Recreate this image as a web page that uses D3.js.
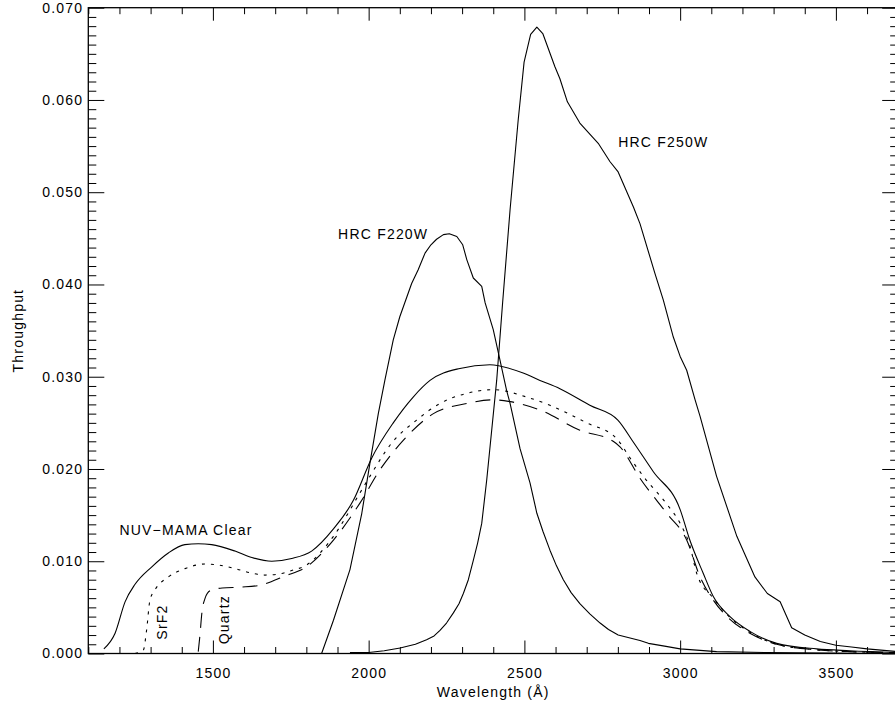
<!DOCTYPE html>
<html>
<head>
<meta charset="utf-8">
<script src="https://cdn.jsdelivr.net/npm/d3@7/dist/d3.min.js"></script>
<style>
  body { margin: 0; background: #fff; }
  svg text { font-family: "Liberation Sans", Arial, sans-serif; font-size: 14px; letter-spacing: 1.2px; fill: #000; }
</style>
</head>
<body>
<svg id="chart" width="895" height="704"></svg>
<script>
// Throughput curves: [wavelength (Å), throughput]
const nuvClear = [
  [1150,0.0005],[1186,0.0022],[1218,0.0056],[1250,0.0075],[1304,0.0094],[1357,0.0109],
  [1410,0.0118],[1453,0.0119],[1496,0.0118],[1571,0.0111],[1625,0.0104],[1689,0.0100],
  [1753,0.0103],[1817,0.0111],[1887,0.0135],[1951,0.0166],[2010,0.0212],[2079,0.0250],
  [2143,0.0278],[2197,0.0296],[2293,0.0309],[2389,0.0313],[2496,0.0304],[2550,0.0296],
  [2614,0.0287],[2710,0.0269],[2800,0.0253],[2850,0.0229],[2914,0.0197],[3000,0.0156],
  [3031,0.0123],[3074,0.0087],[3106,0.0062],[3160,0.0040],[3224,0.0024],[3310,0.0011],
  [3438,0.0005],[3545,0.0003],[3700,0.0001]
];
const srf2 = [
  [1250,0.0000],[1277,0.0004],[1287,0.0025],[1298,0.0058],[1314,0.0069],[1357,0.0083],
  [1410,0.0092],[1475,0.0097],[1517,0.0096],[1571,0.0092],[1625,0.0087],[1667,0.0085],
  [1710,0.0086],[1753,0.0090],[1801,0.0096],[1887,0.0127],[1972,0.0174],[2004,0.0192],
  [2069,0.0226],[2154,0.0253],[2229,0.0271],[2315,0.0282],[2400,0.0286],[2507,0.0278],
  [2582,0.0269],[2700,0.0250],[2796,0.0233],[2839,0.0212],[2882,0.0192],[2957,0.0162],
  [3000,0.0141],[3032,0.0116],[3053,0.0087],[3106,0.0060],[3160,0.0039],[3224,0.0023],
  [3310,0.0010],[3438,0.0004],[3545,0.0002],[3700,0.0001]
];
const quartz = [
  [1453,0.0002],[1459,0.0022],[1464,0.0042],[1475,0.0060],[1491,0.0068],[1530,0.0071],
  [1592,0.0072],[1651,0.0074],[1731,0.0084],[1801,0.0094],[1887,0.0123],[1972,0.0163],
  [2036,0.0199],[2111,0.0231],[2208,0.0260],[2315,0.0271],[2400,0.0275],[2454,0.0273],
  [2550,0.0264],[2678,0.0242],[2785,0.0230],[2807,0.0224],[2871,0.0190],[2957,0.0152],
  [3021,0.0123],[3064,0.0083],[3106,0.0058],[3160,0.0037],[3224,0.0022],[3310,0.0010],
  [3438,0.0004],[3545,0.0002],[3700,0.0001]
];
const hrcF220W = [
  [1849,0.0000],[1887,0.0036],[1940,0.0091],[1978,0.0152],[2004,0.0206],[2031,0.0260],
  [2052,0.0296],[2079,0.0340],[2100,0.0365],[2138,0.0401],[2159,0.0416],[2181,0.0434],
  [2200,0.0443],[2218,0.0449],[2240,0.0454],[2259,0.0455],[2283,0.0452],[2302,0.0443],
  [2315,0.0427],[2336,0.0407],[2363,0.0398],[2374,0.0380],[2400,0.0351],[2419,0.0322],
  [2443,0.0285],[2454,0.0271],[2486,0.0222],[2518,0.0185],[2540,0.0152],[2560,0.0132],
  [2582,0.0112],[2603,0.0095],[2625,0.0080],[2650,0.0066],[2678,0.0054],[2710,0.0043],
  [2743,0.0033],[2770,0.0026],[2801,0.0020],[2871,0.0014],[2898,0.0011],[2950,0.0008],
  [3000,0.0005],[3117,0.0002],[3278,0.0001],[3700,0.0000]
];
const hrcF250W = [
  [1940,0.0001],[2000,0.0001],[2050,0.0003],[2101,0.0006],[2150,0.0010],[2186,0.0015],
  [2210,0.0019],[2229,0.0025],[2250,0.0033],[2272,0.0044],[2290,0.0054],[2304,0.0065],
  [2320,0.0080],[2336,0.0101],[2350,0.0120],[2363,0.0141],[2379,0.0188],[2395,0.0242],
  [2411,0.0296],[2430,0.0380],[2454,0.0481],[2480,0.0578],[2499,0.0641],[2520,0.0671],
  [2540,0.0679],[2559,0.0672],[2598,0.0636],[2614,0.0623],[2638,0.0598],[2678,0.0575],
  [2737,0.0553],[2775,0.0533],[2801,0.0522],[2850,0.0484],[2871,0.0466],[2919,0.0412],
  [2946,0.0383],[2978,0.0343],[3000,0.0322],[3021,0.0307],[3048,0.0275],[3064,0.0257],
  [3117,0.0192],[3182,0.0127],[3240,0.0083],[3280,0.0065],[3321,0.0056],[3358,0.0028],
  [3400,0.0020],[3450,0.0013],[3500,0.0009],[3550,0.0007],[3600,0.0005],[3700,0.0002]
];

// Axis ticks
const xMajorTicks = [1500, 2000, 2500, 3000, 3500];
const yMajorTicks = [0, 0.01, 0.02, 0.03, 0.04, 0.05, 0.06, 0.07];
const xMinorTicks = d3.range(1100, 3701, 100).filter(v => v % 500 !== 0);
const yMinorTicks = d3.range(1, 70).filter(v => v % 10 !== 0).map(v => v / 1000);

// Curve labels: [text, wavelength, throughput, rotated]
const curveLabels = [
  ["NUV\u2212MAMA Clear", 1200, 0.0128, false],
  ["HRC F220W", 1902, 0.0449, false],
  ["HRC F250W", 2801, 0.0549, false],
  ["SrF2", 1352, 0.0015, true],
  ["Quartz", 1553, 0.0010, true]
];

const svg = d3.select("#chart");
const x = d3.scaleLinear().domain([1100, 3700]).range([88.3, 898.2]);
const y = d3.scaleLinear().domain([0, 0.07]).range([653.5, 7.7]);
const [x0, x1] = x.range();
const [yb, yt] = y.range();

svg.append("defs").append("clipPath").attr("id", "plot")
  .append("rect").attr("x", x0).attr("y", yt).attr("width", x1 - x0).attr("height", yb - yt);

function drawAxis(axis, tx, ty, keepLabels) {
  const g = svg.append("g").attr("transform", `translate(${tx},${ty})`).call(axis);
  g.select(".domain").remove();
  g.selectAll(".tick line").attr("stroke", "#000").attr("stroke-width", 1);
  if (!keepLabels) g.selectAll(".tick text").remove();
  return g;
}

// Bottom axis
drawAxis(d3.axisBottom(x).tickValues(xMajorTicks).tickSize(-13).tickPadding(14.5).tickFormat(d3.format("d")), 0, yb, true);
drawAxis(d3.axisBottom(x).tickValues(xMinorTicks).tickSize(-6.5), 0, yb, false);
// Top axis
drawAxis(d3.axisTop(x).tickValues(xMajorTicks).tickSize(-13), 0, yt, false);
drawAxis(d3.axisTop(x).tickValues(xMinorTicks).tickSize(-6.5), 0, yt, false);
// Left axis
drawAxis(d3.axisLeft(y).tickValues(yMajorTicks).tickSize(-16).tickPadding(5).tickFormat(d3.format(".3f")), x0, 0, true);
drawAxis(d3.axisLeft(y).tickValues(yMinorTicks).tickSize(-8), x0, 0, false);
// Right axis
drawAxis(d3.axisRight(y).tickValues(yMajorTicks).tickSize(-16), x1, 0, false);
drawAxis(d3.axisRight(y).tickValues(yMinorTicks).tickSize(-8), x1, 0, false);

// Frame
svg.append("rect").attr("x", x0).attr("y", yt).attr("width", x1 - x0).attr("height", yb - yt)
  .attr("fill", "none").attr("stroke", "#000").attr("stroke-width", 1.3);

// Curves: detector/filter curves smoothed, HRC filter curves as polylines
const smooth = d3.line().x(d => x(d[0])).y(d => y(d[1])).curve(d3.curveMonotoneX);
const straight = d3.line().x(d => x(d[0])).y(d => y(d[1]));
const series = [
  { data: nuvClear, dash: null, gen: smooth },
  { data: srf2, dash: "3,6", gen: smooth },
  { data: quartz, dash: "15,9", gen: smooth },
  { data: hrcF220W, dash: null, gen: straight },
  { data: hrcF250W, dash: null, gen: straight }
];
svg.append("g").attr("clip-path", "url(#plot)")
  .selectAll("path").data(series).join("path")
  .attr("d", d => d.gen(d.data))
  .attr("fill", "none").attr("stroke", "#000").attr("stroke-width", 1.1)
  .attr("stroke-linejoin", "round")
  .attr("stroke-dasharray", d => d.dash);

// Curve labels
svg.append("g").selectAll("text").data(curveLabels).join("text")
  .attr("transform", d => `translate(${x(d[1])},${y(d[2])})` + (d[3] ? " rotate(-90)" : ""))
  .text(d => d[0]);

// Axis titles
svg.append("text").attr("x", (x0 + x1) / 2).attr("y", 697).attr("text-anchor", "middle")
  .text("Wavelength (\u00C5)");
svg.append("text").attr("transform", `translate(22.7,${(yb + yt) / 2}) rotate(-90)`)
  .attr("text-anchor", "middle").text("Throughput");
</script>
</body>
</html>
